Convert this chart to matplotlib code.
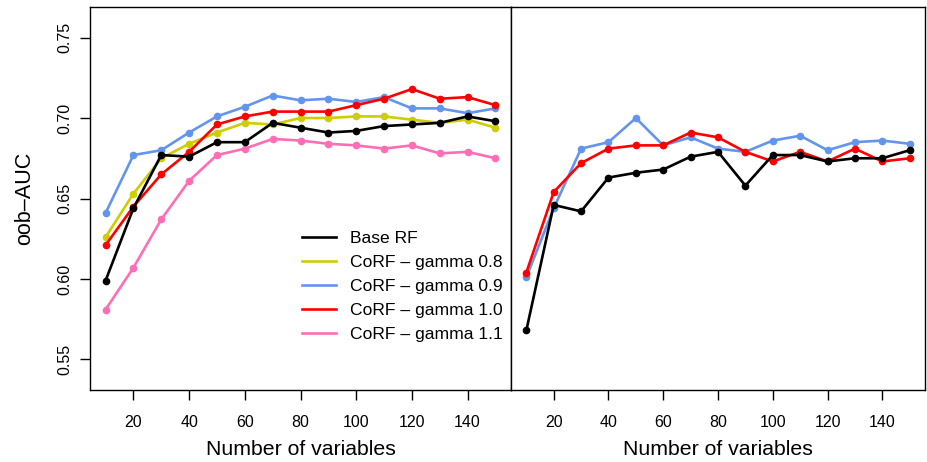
import numpy as np
import matplotlib
matplotlib.use("Agg")
import matplotlib.pyplot as plt
from matplotlib.lines import Line2D

plt.rcParams['font.family'] = ['Liberation Sans', 'DejaVu Sans']

n_vars = [10, 20, 30, 40, 50, 60, 70, 80, 90, 100, 110, 120, 130, 140, 150]

# left panel
left_base = [0.599, 0.644, 0.677, 0.676, 0.685, 0.685, 0.697, 0.694, 0.691, 0.692, 0.695, 0.696, 0.697, 0.701, 0.698]
left_g08 = [0.626, 0.653, 0.675, 0.684, 0.691, 0.697, 0.696, 0.700, 0.700, 0.701, 0.701, 0.699, 0.697, 0.699, 0.694]
left_g09 = [0.641, 0.677, 0.680, 0.691, 0.701, 0.707, 0.714, 0.711, 0.712, 0.710, 0.713, 0.706, 0.706, 0.703, 0.706]
left_g10 = [0.621, 0.645, 0.665, 0.679, 0.696, 0.701, 0.704, 0.704, 0.704, 0.708, 0.712, 0.718, 0.712, 0.713, 0.708]
left_g11 = [0.581, 0.607, 0.637, 0.661, 0.677, 0.681, 0.687, 0.686, 0.684, 0.683, 0.681, 0.683, 0.678, 0.679, 0.675]

# right panel
right_base = [0.568, 0.646, 0.642, 0.663, 0.666, 0.668, 0.676, 0.679, 0.658, 0.677, 0.677, 0.673, 0.675, 0.675, 0.680]
right_g09 = [0.601, 0.644, 0.681, 0.685, 0.700, 0.683, 0.688, 0.681, 0.679, 0.686, 0.689, 0.680, 0.685, 0.686, 0.684]
right_g10 = [0.604, 0.654, 0.672, 0.681, 0.683, 0.683, 0.691, 0.688, 0.679, 0.673, 0.679, 0.673, 0.681, 0.673, 0.675]

labels = ['Base RF', 'CoRF \u2013 gamma 0.8', 'CoRF \u2013 gamma 0.9',
          'CoRF \u2013 gamma 1.0', 'CoRF \u2013 gamma 1.1']
colors = ['black', '#CDCD00', '#6495ED', '#FF0000', '#FF6EB4']

W, H = 927, 462
fig = plt.figure(figsize=(W / 100, H / 100), dpi=100)
ax1 = fig.add_axes([90 / W, 1 - 390 / H, (511 - 90) / W, (390 - 7) / H])
ax2 = fig.add_axes([511 / W, 1 - 390 / H, (925 - 511) / W, (390 - 7) / H])


def draw(ax, series, cols):
    for vals, c in zip(series, cols):
        ax.plot(n_vars, vals, color=c, lw=1.9, marker='o', ms=4.5, mec=c, mfc=c)


draw(ax1, [left_g08, left_g09, left_g10, left_g11, left_base],
     [colors[1], colors[2], colors[3], colors[4], colors[0]])
draw(ax2, [right_g09, right_g10, right_base], [colors[2], colors[3], colors[0]])

for ax in (ax1, ax2):
    ax.set_xlim(4.4, 155.6)
    ax.set_ylim(0.531, 0.769)
    ax.set_xticks([20, 40, 60, 80, 100, 120, 140])
    ax.tick_params(axis='x', direction='out', length=7.2, width=1, labelsize=11.5, pad=10.5)
    ax.set_xlabel('Number of variables', fontsize=15.3, labelpad=7.5)
    for s in ax.spines.values():
        s.set_linewidth(1.0)

ax1.set_yticks([0.55, 0.60, 0.65, 0.70, 0.75])
ax1.set_yticklabels(['0.55', '0.60', '0.65', '0.70', '0.75'], rotation=90, va='center')
ax1.tick_params(axis='y', direction='out', length=7.2, width=1, labelsize=11.5, pad=5.5)
ax1.set_ylabel('oob\u2013AUC', fontsize=15.5, labelpad=16)
ax2.set_yticks([])

handles = [Line2D([0], [0], color=c, lw=1.9) for c in colors]
ax1.legend(handles, labels, loc='upper left', bbox_to_anchor=(0.504, 0.416),
           frameon=False, fontsize=12.6, handlelength=1.94, handletextpad=0.8,
           labelspacing=0.5, borderaxespad=0, borderpad=0)

fig.savefig('out.png', dpi=100)
